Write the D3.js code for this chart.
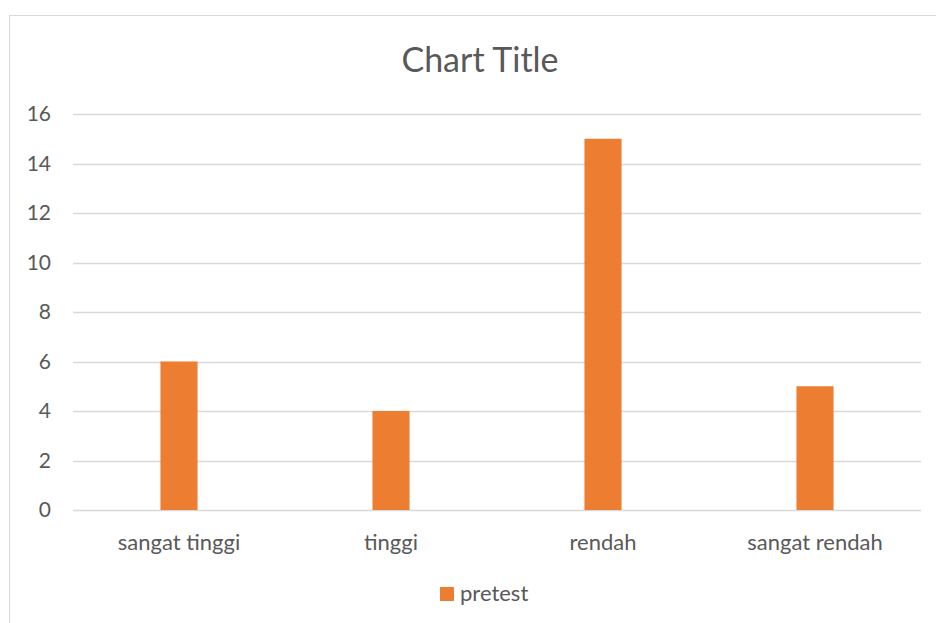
<!DOCTYPE html>
<html>
<head>
<meta charset="utf-8">
<script src="https://cdn.jsdelivr.net/npm/d3@7"></script>
<style>
  body { margin: 0; background: #fff; }
  svg text { font-family: Lato, "Open Sans", sans-serif; fill: #595959; }
</style>
</head>
<body>
<div id="chart"></div>
<script>
var categories = ["sangat tinggi", "tinggi", "rendah", "sangat rendah"];
var pretest = [6, 4, 15, 5];
var yTicks = [0, 2, 4, 6, 8, 10, 12, 14, 16];
var seriesName = "pretest";

var width = 936, height = 623;
var plotLeft = 73, plotRight = 921, plotTop = 114, plotBottom = 510;

var svg = d3.select("#chart").append("svg")
    .attr("width", width)
    .attr("height", height);

// chart frame
svg.append("rect")
    .attr("x", 9.5)
    .attr("y", 15.5)
    .attr("width", 940)
    .attr("height", 620)
    .attr("fill", "#fff")
    .attr("stroke", "#d9d9d9");

var x = d3.scaleBand()
    .domain(categories)
    .range([plotLeft, plotRight])
    .paddingInner(0.825)
    .paddingOuter(0.4125);

var y = d3.scaleLinear()
    .domain([0, 16])
    .range([plotBottom, plotTop]);

// gridlines
svg.append("g")
    .selectAll("line")
    .data(yTicks)
    .enter()
    .append("line")
    .attr("x1", plotLeft)
    .attr("x2", plotRight)
    .attr("y1", function(d){ return Math.round(y(d)) + 0.5; })
    .attr("y2", function(d){ return Math.round(y(d)) + 0.5; })
    .attr("stroke", "#d9d9d9")
    .attr("stroke-width", 1.5);

// y tick labels
svg.append("g")
    .selectAll("text")
    .data(yTicks)
    .enter()
    .append("text")
    .attr("x", 51)
    .attr("y", function(d){ return y(d) + 7; })
    .attr("text-anchor", "end")
    .style("font-size", "21px")
    .text(function(d){ return d; });

// bars
svg.append("g")
    .selectAll("rect")
    .data(pretest)
    .enter()
    .append("rect")
    .attr("x", function(d, i){ return x(categories[i]); })
    .attr("y", function(d){ return y(d); })
    .attr("width", x.bandwidth())
    .attr("height", function(d){ return plotBottom - y(d); })
    .attr("fill", "#ed7d31");

// category labels
svg.append("g")
    .selectAll("text")
    .data(categories)
    .enter()
    .append("text")
    .attr("x", function(d){ return x(d) + x.bandwidth() / 2; })
    .attr("y", 550)
    .attr("text-anchor", "middle")
    .style("font-size", "22px")
    .text(function(d){ return d; });

// title
svg.append("text")
    .attr("x", 480)
    .attr("y", 72)
    .attr("text-anchor", "middle")
    .style("font-size", "34px")
    .text("Chart Title");

// legend
svg.append("rect")
    .attr("x", 440)
    .attr("y", 587)
    .attr("width", 14)
    .attr("height", 14)
    .attr("fill", "#ed7d31");
svg.append("text")
    .attr("x", 460)
    .attr("y", 601)
    .style("font-size", "22px")
    .text(seriesName);
</script>
</body>
</html>
